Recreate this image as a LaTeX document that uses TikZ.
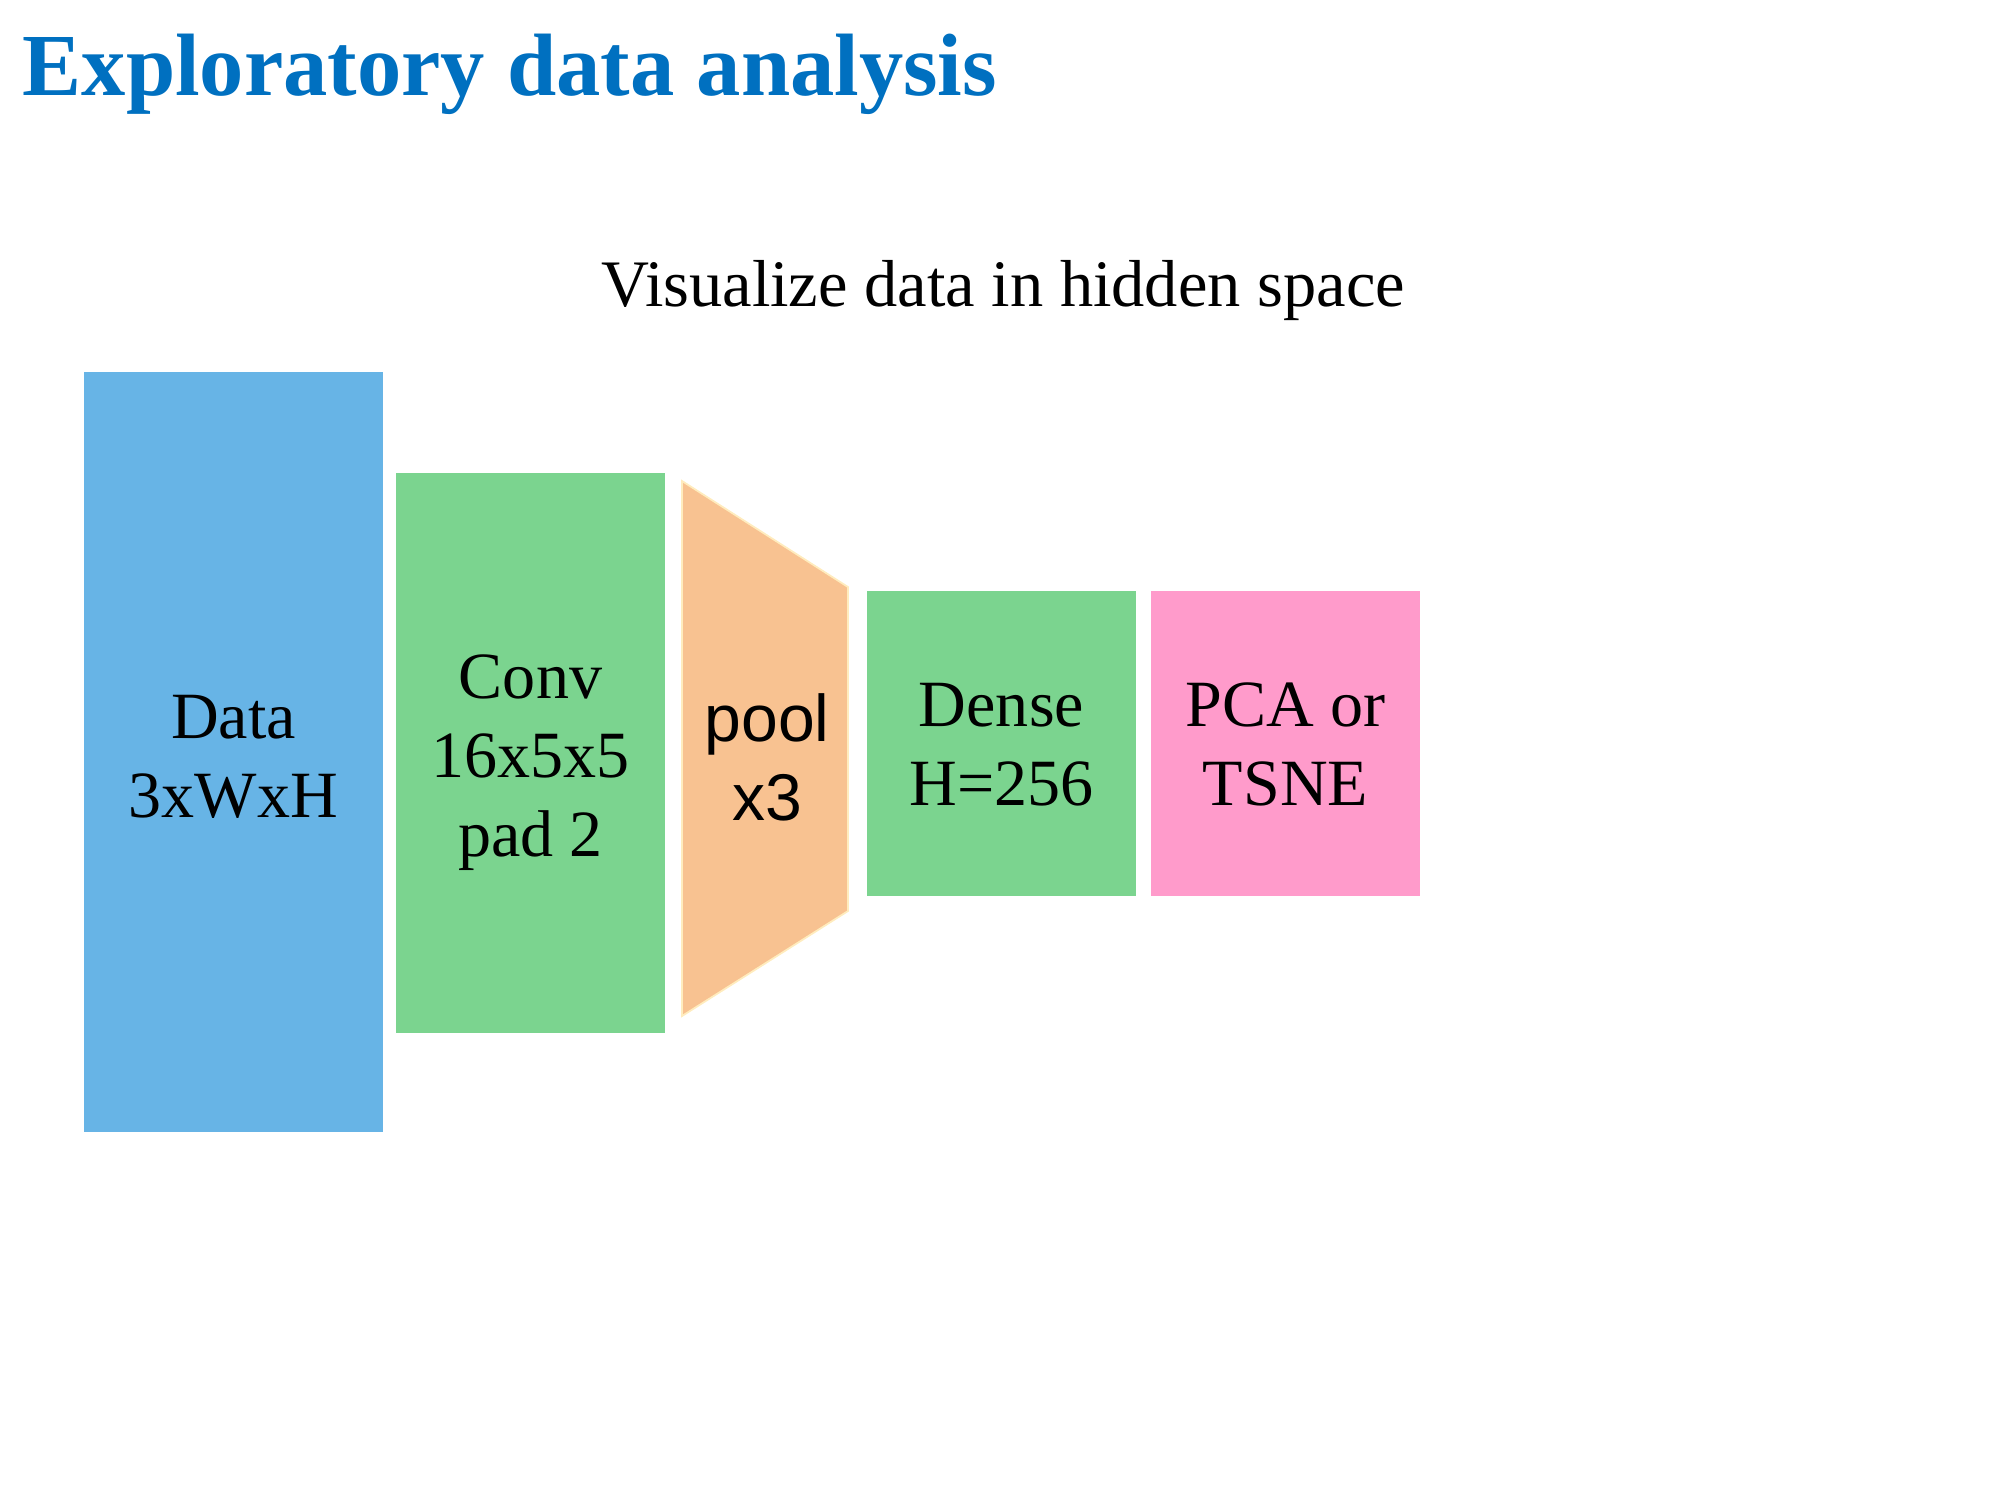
\documentclass[tikz,border=0pt]{standalone}
\usepackage{fontspec}
\setmainfont{Liberation Serif}
\newfontfamily\poolfont{Liberation Sans}
\usepackage{tikz}
\usetikzlibrary{calc}
\definecolor{titleBlue}{RGB}{0,112,192}
\definecolor{dataBlue}{RGB}{103,180,230}
\definecolor{layerGreen}{RGB}{123,212,143}
\definecolor{poolOrange}{RGB}{248,194,145}
\definecolor{poolEdge}{RGB}{255,236,190}
\definecolor{reducePink}{RGB}{255,155,203}

\begin{document}
\begin{tikzpicture}[
    layer/.style={rectangle,inner sep=0pt},
    layertext/.style={inner sep=0pt,align=center,
      font=\fontsize{18.8pt}{22.5pt}\selectfont},
  ]
    \useasboundingbox (0,0) rectangle (20,-15);
    \def\boxw{2.69cm} \def\boxh{3.05cm}

    % titles
    \node[anchor=base west,inner sep=0pt,text=titleBlue,font=\fontsize{25.2pt}{30pt}\selectfont\bfseries] (title) at (0.22,-0.95) {Exploratory data analysis};
    \node[anchor=base,inner sep=0pt,font=\fontsize{18.9pt}{22.5pt}\selectfont] (subtitle) at (10.03,-3.06) {Visualize data in hidden space};

    % layers of the network
    \node[layer,fill=dataBlue,minimum width=2.99cm,minimum height=7.60cm] (data) at (2.335,-7.52) {};
    \node[layertext] (dataTxt) at ($(data.center)+(0,-0.05)$) {Data\\3xWxH};
    \node[layer,fill=layerGreen,minimum width=\boxw,minimum height=5.60cm] (conv) at (5.305,-7.53) {};
    \node[layertext] (convTxt) at ($(conv.center)+(0,-0.10)$) {Conv\\16x5x5\\pad 2};

    % pooling trapezoid
    \coordinate (poolTL) at (6.82,-4.81);
    \coordinate (poolTR) at (8.48,-5.87);
    \coordinate (poolBR) at (8.48,-9.11);
    \coordinate (poolBL) at (6.82,-10.16);
    \fill[poolOrange,draw=poolEdge,line width=0.5pt] (poolTL) -- (poolTR) -- (poolBR) -- (poolBL) -- cycle;
    \node[layertext,font=\fontsize{18.8pt}{22.5pt}\selectfont\poolfont] (pool) at (7.67,-7.57) {pool\\x3};

    \node[layer,fill=layerGreen,minimum width=\boxw,minimum height=\boxh] (dense) at (10.015,-7.435) {};
    \node[layertext] (denseTxt) at ($(dense.center)+(0,-0.01)$) {Dense\\H=256};
    \node[layer,fill=reducePink,minimum width=\boxw,minimum height=\boxh] (pca) at (12.855,-7.435) {};
    \node[layertext] (pcaTxt) at ($(pca.center)+(0,-0.01)$) {PCA or\\TSNE};
\end{tikzpicture}
\end{document}
